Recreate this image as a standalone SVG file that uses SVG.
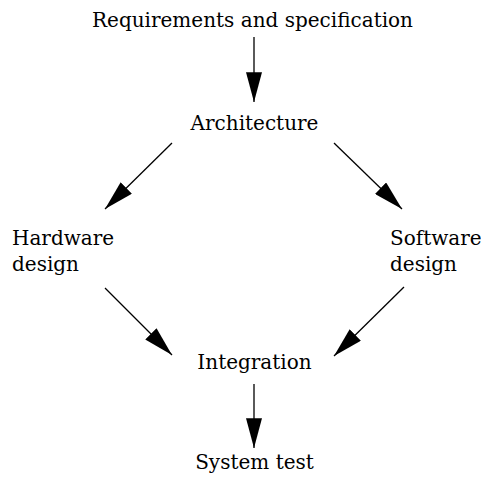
<svg xmlns="http://www.w3.org/2000/svg" width="481" height="477" viewBox="0 0 481 477">
<style>
text{font-family:"DejaVu Serif","Liberation Serif",serif;font-size:20px;fill:#000}
.c{text-anchor:middle}
.e{stroke:#000;stroke-width:1.3;fill:none}
</style>
<defs>
<marker id="ah" markerUnits="userSpaceOnUse" markerWidth="30" markerHeight="16" refX="28" refY="7.5" orient="auto" viewBox="0 0 28 15">
<path d="M0,0 L28,7.5 L0,15 Z" fill="#000"/>
</marker>
</defs>
<rect width="481" height="477" fill="#fff"/>
<g id="connectors">
<line class="e" x1="254" y1="37" x2="254" y2="102" marker-end="url(#ah)"/>
<line class="e" x1="172" y1="143" x2="105" y2="209" marker-end="url(#ah)"/>
<line class="e" x1="334" y1="143" x2="402" y2="209" marker-end="url(#ah)"/>
<line class="e" x1="105" y1="288" x2="172" y2="355" marker-end="url(#ah)"/>
<line class="e" x1="404" y1="287" x2="334" y2="356" marker-end="url(#ah)"/>
<line class="e" x1="254" y1="384" x2="254" y2="448" marker-end="url(#ah)"/>
</g>
<g id="req"><text class="c" x="252.5" y="27">Requirements and specification</text></g>
<g id="arch"><text class="c" x="254.5" y="130">Architecture</text></g>
<g id="hw"><text x="12" y="245">Hardware</text><text x="12" y="271">design</text></g>
<g id="sw"><text x="390" y="245">Software</text><text x="390" y="271">design</text></g>
<g id="integ"><text class="c" x="254.5" y="369">Integration</text></g>
<g id="test"><text class="c" x="254.5" y="469">System test</text></g>
</svg>
